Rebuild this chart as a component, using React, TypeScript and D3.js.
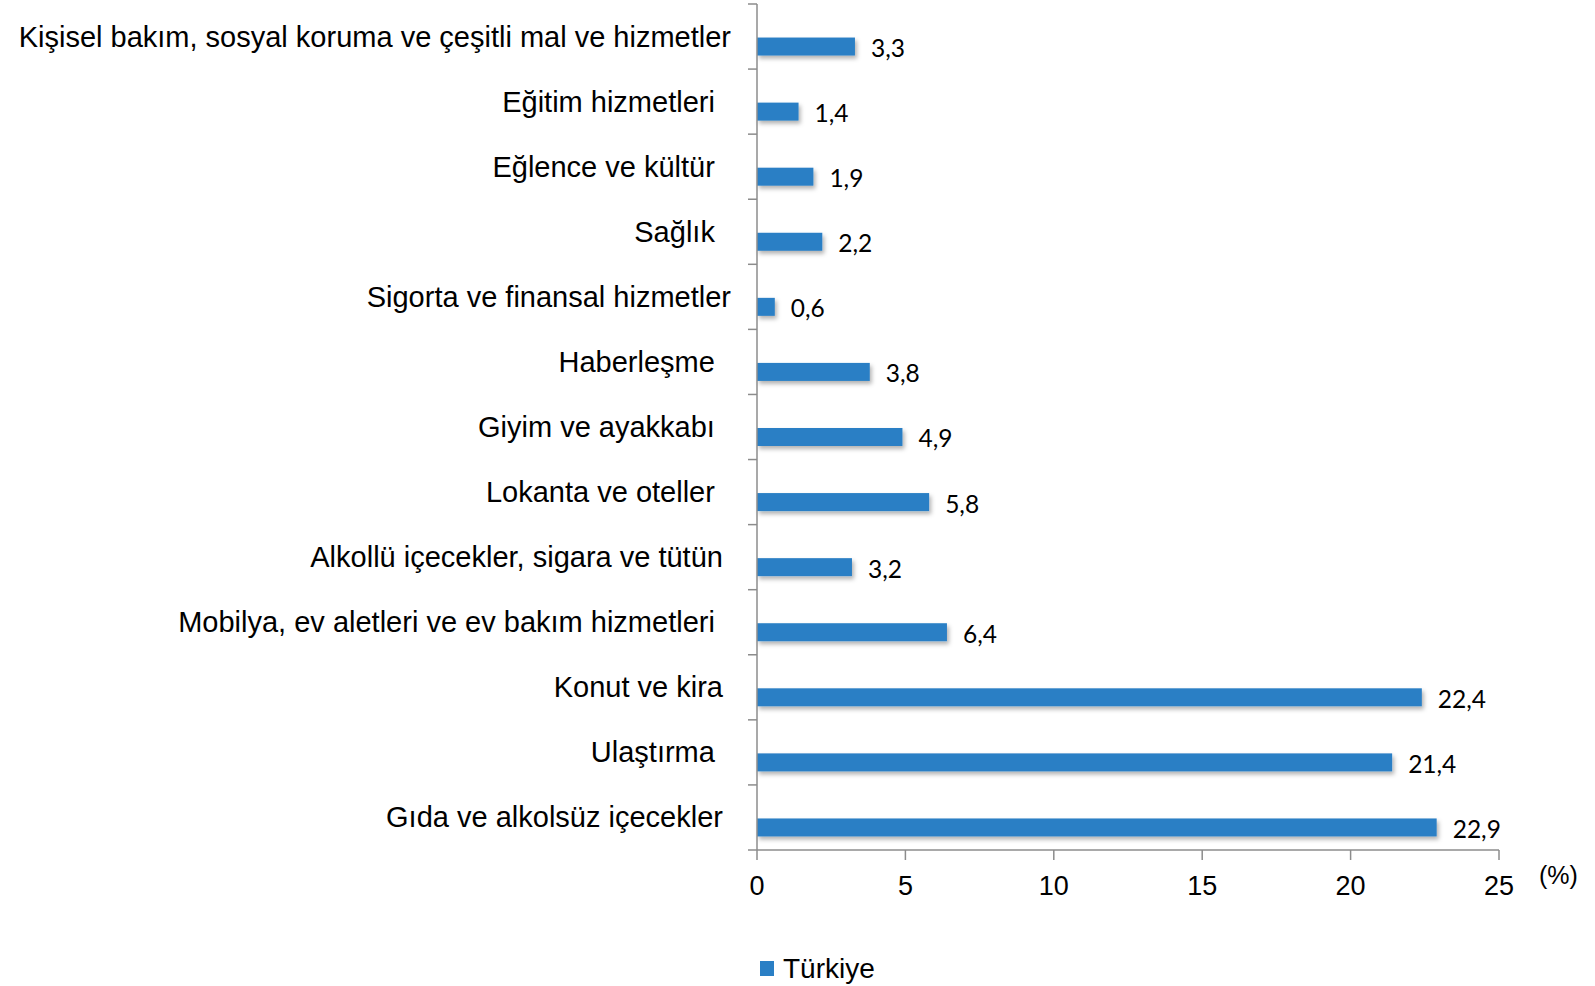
import * as d3 from "d3";

// categories top to bottom; trailing spaces are part of the original labels
const categories = [
  "Kişisel bakım, sosyal koruma ve çeşitli mal ve hizmetler",
  "Eğitim hizmetleri  ",
  "Eğlence ve kültür  ",
  "Sağlık  ",
  "Sigorta ve finansal hizmetler",
  "Haberleşme  ",
  "Giyim ve ayakkabı  ",
  "Lokanta ve oteller  ",
  "Alkollü içecekler, sigara ve tütün ",
  "Mobilya, ev aletleri ve ev bakım hizmetleri  ",
  "Konut ve kira ",
  "Ulaştırma  ",
  "Gıda ve alkolsüz içecekler ",
];
const turkiye = [3.3, 1.4, 1.9, 2.2, 0.6, 3.8, 4.9, 5.8, 3.2, 6.4, 22.4, 21.4, 22.9];
const seriesSlots = ["", "Türkiye"];
const xTicks = [0, 5, 10, 15, 20, 25];

const width = 1595;
const height = 986;
const marginTop = 4;
const marginBottom = 136;
const marginLeft = 757;
const marginRight = 96;
const barColor = "#2a7fc5";
const axisColor = "#8c8c8c";

export default function App() {
  const x = d3.scaleLinear([0, 25], [marginLeft, width - marginRight]);
  const y = d3
    .scaleBand<number>()
    .domain(d3.range(categories.length))
    .range([marginTop, height - marginBottom]);
  const slot = d3
    .scaleBand<string>()
    .domain(seriesSlots)
    .range([0, y.bandwidth()])
    .paddingOuter(0.808);
  const fmt = (v: number) => v.toFixed(1).replace(".", ",");
  const bottom = height - marginBottom;
  const boundaries = d3.range(categories.length + 1).map((i) => marginTop + i * y.step());
  const barY = (i: number) => y(i)! + slot("Türkiye")! + 1;

  return (
    <svg
      width={width}
      height={height}
      style={{ position: "absolute", left: 0, top: 0, background: "#fff" }}
    >
      <defs>
        <filter id="shadow" x="-5%" y="-30%" width="120%" height="180%">
          <feDropShadow dx="2" dy="3" stdDeviation="2" floodColor="#000" floodOpacity="0.3" />
        </filter>
      </defs>

      {/* bars */}
      <g fill={barColor} filter="url(#shadow)">
        {turkiye.map((v, i) => (
          <rect key={i} x={x(0)} y={barY(i)} width={x(v) - x(0)} height={slot.bandwidth()} />
        ))}
      </g>

      {/* value labels */}
      <g fontFamily="Lato, 'Open Sans', sans-serif" fontSize="24.5" fill="#000">
        {turkiye.map((v, i) => (
          <text
            key={i}
            x={x(v) + 16}
            y={barY(i) + slot.bandwidth() / 2 + 1}
            dominantBaseline="central"
          >
            {fmt(v)}
          </text>
        ))}
      </g>

      {/* left axis */}
      <g stroke={axisColor} strokeWidth="1.5">
        <line x1={x(0)} x2={x(0)} y1={marginTop} y2={bottom} />
        {boundaries.map((b, i) => (
          <line key={i} x1={x(0) - 9} x2={x(0)} y1={b} y2={b} />
        ))}
      </g>

      {/* category labels */}
      <g fontFamily="'Liberation Sans', Arial, sans-serif" fontSize="29" fill="#000">
        {categories.map((c, i) => (
          <text
            key={i}
            x={731}
            y={y(i)! + y.bandwidth() / 2}
            textAnchor="end"
            dominantBaseline="central"
            style={{ whiteSpace: "pre" }}
          >
            {c}
          </text>
        ))}
      </g>

      {/* bottom axis */}
      <g stroke={axisColor} strokeWidth="1.5">
        <line x1={x(0)} x2={x(25)} y1={bottom} y2={bottom} />
        {xTicks.map((t) => (
          <line key={t} x1={x(t)} x2={x(t)} y1={bottom} y2={bottom + 10} />
        ))}
      </g>
      <g fontFamily="'Liberation Sans', Arial, sans-serif" fontSize="27" fill="#000">
        {xTicks.map((t) => (
          <text key={t} x={x(t)} y={886} textAnchor="middle" dominantBaseline="central">
            {t}
          </text>
        ))}
        <text x={1539} y={875} dominantBaseline="central" fontSize="25">
          (%)
        </text>
      </g>

      {/* legend */}
      <rect x={760} y={961} width={14} height={15} fill={barColor} />
      <text
        x={783}
        y={968}
        dominantBaseline="central"
        fontFamily="'Liberation Sans', Arial, sans-serif"
        fontSize="28"
        fill="#000"
      >
        Türkiye
      </text>
    </svg>
  );
}
